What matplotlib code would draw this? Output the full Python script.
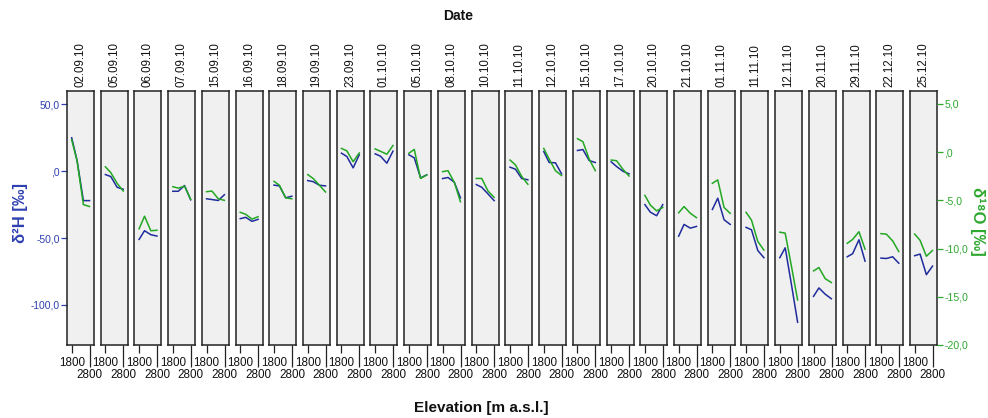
import matplotlib
matplotlib.use("Agg")
import matplotlib.pyplot as plt
from matplotlib.ticker import FixedLocator, FixedFormatter

plt.rcParams['font.family'] = ['Liberation Sans', 'DejaVu Sans']

dates = ["02.09.10", "05.09.10", "06.09.10", "07.09.10", "15.09.10", "16.09.10",
         "18.09.10", "19.09.10", "23.09.10", "01.10.10", "05.10.10", "08.10.10",
         "10.10.10", "11.10.10", "12.10.10", "15.10.10", "17.10.10", "20.10.10",
         "21.10.10", "01.11.10", "11.11.10", "12.11.10", "20.11.10", "29.11.10",
         "22.12.10", "25.12.10"]

elevation = [1800, 2100, 2450, 2790]

d2H = [
    [25, 8, -22, -22],
    [-2.5, -4, -12, -13.5],
    [-51, -44.5, -47.5, -48.5],
    [-15, -15, -10.7, -21.4],
    [-20.6, -21.2, -21.9, -17.6],
    [-35.5, -34.5, -37.5, -36],
    [-10.4, -11, -19.9, -18.7],
    [-7, -7.8, -10.5, -11],
    [13.5, 11, 2.5, 12.3],
    [13, 11.2, 6, 15],
    [12.3, 10, -5, -2.7],
    [-5.5, -4.7, -8.2, -19.9],
    [-10, -12, -17, -22],
    [3, 1.5, -5.5, -6.4],
    [14.7, 6.5, 6.3, -2],
    [15.5, 16.2, 8, 6.5],
    [7, 3.5, 0, -2],
    [-25, -30.6, -33.3, -25],
    [-48.6, -39.8, -42.6, -41.3],
    [-28.6, -20.2, -36.3, -39.8],
    [-42, -43.8, -59.3, -64.7],
    [-64.7, -57.3, -85, -113],
    [-93.6, -87.3, -92, -95.4],
    [-64, -61.7, -51.3, -67.3],
    [-65, -65.3, -64, -68.8],
    [-63.2, -62, -77.4, -71],
]

d18O = [
    [1.3, -0.9, -5.4, -5.6],
    [-1.5, -2.1, -3.2, -4.0],
    [-7.9, -6.6, -8.1, -8.05],
    [-3.55, -3.7, -3.5, -4.85],
    [-4.07, -4.0, -4.8, -4.96],
    [-6.2, -6.4, -6.9, -6.65],
    [-3.0, -3.4, -4.7, -4.8],
    [-2.3, -2.7, -3.4, -4.1],
    [0.4, 0.15, -0.97, -0.07],
    [0.35, 0.1, -0.2, 0.7],
    [-0.1, 0.3, -2.7, -2.35],
    [-2.0, -1.9, -3.1, -5.1],
    [-2.7, -2.7, -4.0, -4.65],
    [-0.8, -1.3, -2.5, -3.3],
    [0.4, -0.7, -1.9, -2.4],
    [1.4, 1.1, -0.7, -1.9],
    [-0.8, -0.87, -1.75, -2.45],
    [-4.45, -5.45, -6.05, -5.7],
    [-6.25, -5.6, -6.3, -6.75],
    [-3.2, -2.85, -5.7, -6.3],
    [-6.2, -7.0, -9.2, -10.1],
    [-8.25, -8.35, -11.8, -15.25],
    [-12.25, -11.9, -13.05, -13.45],
    [-9.4, -9.0, -8.2, -10.0],
    [-8.4, -8.45, -9.15, -10.25],
    [-8.5, -9.15, -10.8, -10.2],
]

left_ticks = [50, 0, -50, -100]
left_labels = ["50,0", ",0", "-50,0", "-100,0"]
right_ticks = [5, 0, -5, -10, -15, -20]
right_labels = ["5,0", ",0", "-5,0", "-10,0", "-15,0", "-20,0"]

BLUE = '#1f2c9c'
BLUE_T = '#2f3fb0'
GREEN = '#22a822'
GREEN_T = '#2ea82e'
EDGE = '#222222'

W, H = 988, 418
fig = plt.figure(figsize=(W / 100, H / 100), dpi=100)

x0, pitch, pw = 67, 33.72, 27
top, bot = 91, 345
n = len(dates)

for i in range(n):
    left = (x0 + i * pitch) / W
    ax = fig.add_axes([left, 1 - bot / H, pw / W, (bot - top) / H])
    ax.set_facecolor('#f0f0f0')
    ax.set_xlim(1540, 3040)
    ax.set_ylim(-130, 60)
    for s in ax.spines.values():
        s.set_color(EDGE)
        s.set_linewidth(1.1)
    ax.plot(elevation, d2H[i], color=BLUE, lw=1.1, zorder=3)
    ax2 = ax.twinx()
    ax2.set_ylim(-19.9, 6.33)
    ax2.plot(elevation, d18O[i], color=GREEN, lw=1.1, zorder=3)
    for s in ax2.spines.values():
        s.set_visible(False)

    # x ticks: 1800 (major, upper row), 2800 (minor, lower row)
    ax.xaxis.set_major_locator(FixedLocator([1800]))
    ax.xaxis.set_major_formatter(FixedFormatter(["1800"]))
    ax.xaxis.set_minor_locator(FixedLocator([2800]))
    ax.xaxis.set_minor_formatter(FixedFormatter(["2800"]))
    ax.tick_params(axis='x', which='major', length=5.5, width=0.9, color=EDGE,
                   pad=3.0, labelsize=8.4, labelcolor='#111111')
    ax.tick_params(axis='x', which='minor', length=15.5, width=0.9, color=EDGE,
                   pad=1.8, labelsize=8.4, labelcolor='#111111')

    if i == 0:
        ax.set_yticks(left_ticks)
        ax.set_yticklabels(left_labels)
        ax.tick_params(axis='y', length=4.3, width=0.9, color=BLUE_T, pad=0.8,
                       labelsize=7.4, labelcolor=BLUE_T)
    else:
        ax.set_yticks([])
    if i == n - 1:
        ax2.set_yticks(right_ticks)
        ax2.set_yticklabels(right_labels)
        ax2.tick_params(axis='y', length=4.3, width=0.9, color=GREEN_T, pad=0.8,
                        labelsize=7.6, labelcolor=GREEN_T)
    else:
        ax2.set_yticks([])

    ax.text(0.5, 1.016, dates[i], rotation=90, ha='center', va='bottom',
            transform=ax.transAxes, fontsize=8.3, color='#111111')

fig.text(458 / W, 1 - 16 / H, "Date", ha='center', va='center',
         fontsize=10, fontweight='bold', color='#111111')
fig.text(481 / W, 1 - 408 / H, "Elevation [m a.s.l.]", ha='center', va='center',
         fontsize=11, fontweight='bold', color='#111111')
fig.text(20 / W, 1 - 213 / H, "δ²H [‰]", rotation=90, ha='center', va='center',
         fontsize=12, fontweight='bold', color=BLUE_T)
fig.text(978 / W, 1 - 221 / H, "δ¹⁸O [‰]", rotation=270, ha='center', va='center',
         fontsize=12, fontweight='bold', color=GREEN_T)

fig.savefig("out.png", dpi=100)
